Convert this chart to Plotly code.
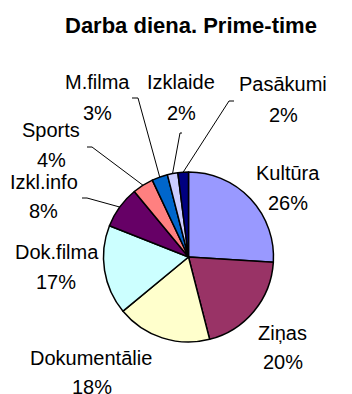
import math
import plotly.graph_objects as go

# Weekday prime-time audience share by programme genre
categories = ["Kultūra", "Ziņas", "Dokumentālie", "Dok.filma", "Izkl.info",
              "Sports", "M.filma", "Izklaide", "Pasākumi"]
shares = [26, 20, 18, 17, 8, 4, 3, 2, 2]
colors = ["#9999FF", "#993366", "#FFFFCC", "#CCFFFF", "#660066",
          "#FF8080", "#0066CC", "#CCCCFF", "#000080"]

W, H = 352, 394
CX, CY, R = 188.5, 257.0, 85.0
FONT = "Liberation Sans, Arial, sans-serif"

# label placement in pixels: (name centre, percent centre)
label_pos = {
    "Kultūra": ((288, 173), (288, 203)),
    "Ziņas": ((282, 333), (283, 362)),
    "Dokumentālie": ((91, 358), (92, 387)),
    "Dok.filma": ((57, 252), (56, 282)),
    "Izkl.info": ((44, 182), (43, 211)),
    "Sports": ((51, 130), (51, 160)),
    "M.filma": ((97, 82), (97, 113)),
    "Izklaide": ((181, 82), (181, 113)),
    "Pasākumi": ((283, 84), (283, 115)),
}
# leader line start (at the label) and elbow, in pixels
leaders = {
    "Izkl.info": ((82, 198), (87, 198)),
    "Sports": ((87, 147), (92, 147)),
    "M.filma": ((132, 98), (138, 98)),
    "Izklaide": ((182, 133), (180, 133)),
    "Pasākumi": ((234, 101), (229, 101)),
}


def px(x):
    return x / W


def py(y):
    return 1 - y / H


fig = go.Figure(go.Pie(
    labels=categories,
    values=shares,
    sort=False,
    direction="clockwise",
    rotation=0,
    marker=dict(colors=colors, line=dict(color="#000000", width=1.5)),
    textinfo="none",
    hoverinfo="skip",
    showlegend=False,
    domain=dict(x=[px(CX - R), px(CX + R)], y=[py(CY + R), py(CY - R)]),
))

annotations = [dict(
    text="<b>Darba diena. Prime-time</b>", x=px(191), y=py(25),
    xref="paper", yref="paper", showarrow=False,
    xanchor="center", yanchor="middle",
    font=dict(family=FONT, size=22, color="#000000"),
)]
shapes = []

total = sum(shares)
cum = 0
for name, v in zip(categories, shares):
    mid = (cum + v / 2) / total * 2 * math.pi
    cum += v
    (nx, ny), (qx, qy) = label_pos[name]
    for txt, (tx, ty) in ((name, (nx, ny)), (f"{v}%", (qx, qy))):
        annotations.append(dict(
            text=txt, x=px(tx), y=py(ty), xref="paper", yref="paper",
            showarrow=False, xanchor="center", yanchor="middle",
            font=dict(family=FONT, size=20, color="#000000"),
        ))
    if name in leaders:
        (sx, sy), (ex, ey) = leaders[name]
        edge_x = CX + R * math.sin(mid)
        edge_y = CY - R * math.cos(mid)
        path = (f"M {px(sx)} {py(sy)} L {px(ex)} {py(ey)} "
                f"L {px(edge_x)} {py(edge_y)}")
        shapes.append(dict(type="path", path=path, xref="paper", yref="paper",
                           line=dict(color="#000000", width=1)))

fig.update_layout(
    width=W, height=H,
    margin=dict(l=0, r=0, t=0, b=0),
    paper_bgcolor="#FFFFFF",
    plot_bgcolor="#FFFFFF",
    annotations=annotations,
    shapes=shapes,
)

fig.write_html("out.html")
